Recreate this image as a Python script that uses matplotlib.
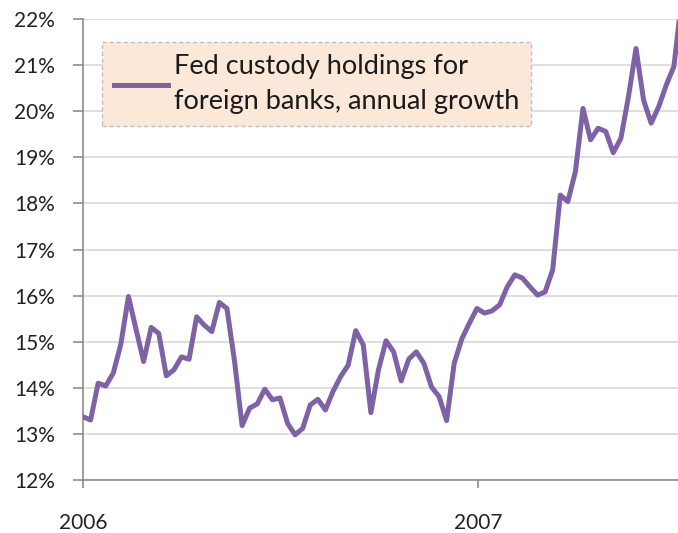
import matplotlib
matplotlib.use("Agg")
import matplotlib.pyplot as plt
import matplotlib.dates as mdates
import numpy as np
import datetime as dt

start = dt.date(2006, 1, 1)
values = [13.37, 13.30, 14.10, 14.04, 14.32, 14.95, 15.98, 15.27, 14.57, 15.31,
          15.18, 14.26, 14.39, 14.67, 14.62, 15.54, 15.36, 15.22, 15.85, 15.72,
          14.58, 13.18, 13.56, 13.65, 13.97, 13.74, 13.78, 13.23, 12.98, 13.12,
          13.63, 13.75, 13.52, 13.92, 14.24, 14.49, 15.24, 14.93, 13.46, 14.39,
          15.02, 14.78, 14.15, 14.62, 14.78, 14.53, 14.02, 13.81, 13.29, 14.53,
          15.06, 15.40, 15.72, 15.62, 15.67, 15.80, 16.19, 16.45, 16.38, 16.19,
          16.01, 16.08, 16.56, 18.18, 18.04, 18.69, 20.06, 19.38, 19.63, 19.56,
          19.10, 19.41, 20.31, 21.36, 20.24, 19.74, 20.10, 20.57, 20.97, 22.40]
dates = [start + dt.timedelta(days=7 * i) for i in range(len(values))]
series_label = "Fed custody holdings for\nforeign banks, annual growth"
year_ticks = [dt.date(2006, 1, 1), dt.date(2007, 1, 1)]
year_labels = ["2006", "2007"]
y_ticks = list(range(12, 23))

plt.rcParams['font.family'] = ['Lato', 'DejaVu Sans']

fig = plt.figure(figsize=(6.78, 5.33), dpi=100)
ax = fig.add_axes([83 / 678, 1 - 480 / 533, 1 - 83 / 678, (480 - 19) / 533])

purple = "#7F62A6"
ax.plot(dates, values, color=purple, lw=3.6, solid_joinstyle='round', label=series_label, zorder=3)

ax.set_ylim(12, 22)
ax.set_yticks(y_ticks)
ax.set_yticklabels([f"{v}%" for v in y_ticks])
ax.set_xlim(mdates.date2num(start), mdates.date2num(start) + 549.8)
ax.set_xticks(year_ticks)
ax.set_xticklabels(year_labels)

ax.grid(axis='y', color='#d9d9d9', lw=1.2, zorder=0)
for s in ['top', 'right']:
    ax.spines[s].set_visible(False)
for s in ['left', 'bottom']:
    ax.spines[s].set_color('#8c8c8c')
    ax.spines[s].set_linewidth(1.2)
ax.tick_params(axis='y', direction='out', length=7, width=1.2, color='#8c8c8c',
               pad=13, labelsize=15, labelcolor='#222222')
ax.tick_params(axis='x', direction='out', length=6, width=1.2, color='#8c8c8c',
               pad=18, labelsize=15, labelcolor='#222222')

leg = ax.legend(loc='upper left', bbox_to_anchor=(19 / 595, (480 - 42) / 461),
                frameon=True, fontsize=19.5, handlelength=2.0, handletextpad=0.2,
                borderpad=0.45, fancybox=False, labelspacing=0.2, borderaxespad=0)
frame = leg.get_frame()
frame.set_facecolor('#FCE8D8')
frame.set_edgecolor('#bfbfbf')
frame.set_linestyle((0, (3, 2)))
frame.set_linewidth(1.0)
frame.set_alpha(1.0)
for t in leg.get_texts():
    t.set_color('#1a1a1a')
    t.set_linespacing(1.5)
for h in leg.get_lines():
    h.set_linewidth(3.6)

fig.savefig("out.png", dpi=100)
